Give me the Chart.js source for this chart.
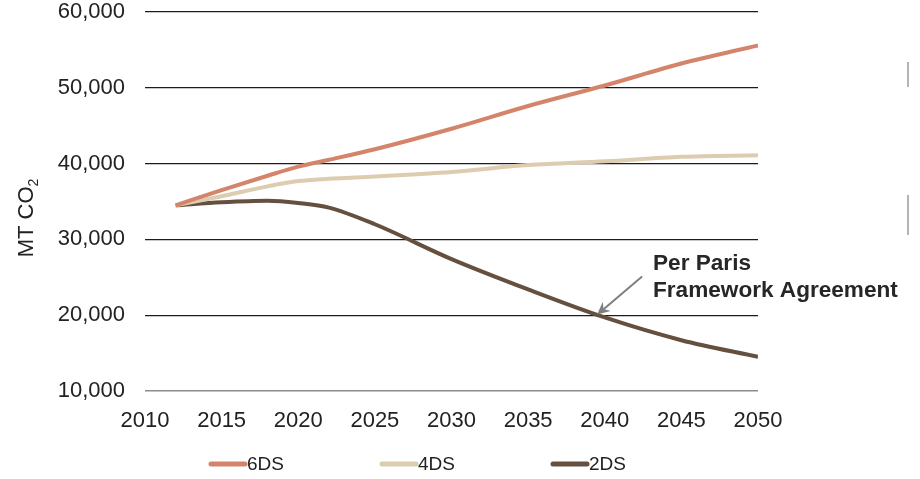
<!DOCTYPE html>
<html>
<head>
<meta charset="utf-8">
<title>CO2 emissions scenarios</title>
<script src="https://cdn.jsdelivr.net/npm/chart.js@4"></script>
<style>
    html, body { margin: 0; padding: 0; background: #ffffff; }
    #wrap { width: 920px; height: 479px; position: relative; }
</style>
</head>
<body>
<div id="wrap"><canvas id="emissionsChart" width="920" height="479"></canvas></div>
<script>
// Scenario data (MT CO2)
const years = [2012, 2015, 2018, 2020, 2022, 2025, 2030, 2035, 2040, 2045, 2050];
const sixDS = [34500, 36500, 38400, 39600, 40500, 41900, 44600, 47600, 50300, 53200, 55600];
const fourDS = [34500, 35700, 37000, 37700, 38000, 38300, 38900, 39800, 40300, 40900, 41100];
const twoDS = [34500, 34900, 35100, 34800, 34200, 32000, 27400, 23400, 19700, 16700, 14500];

const seriesNames = ['6DS', '4DS', '2DS'];
const seriesColors = ['#d4846a', '#dccdb0', '#65503f'];
const yTicks = [10000, 20000, 30000, 40000, 50000, 60000];
const xTicks = [2010, 2015, 2020, 2025, 2030, 2035, 2040, 2045, 2050];

const annotationLines = ['Per Paris', 'Framework Agreement'];

const FONT = "'Liberation Sans', Arial, sans-serif";
const TEXT_COLOR = '#222222';

function toPoints(values) {
    return values.map((v, i) => ({ x: years[i], y: v }));
}

// Y axis title with a subscript 2
const axisTitlePlugin = {
    id: 'axisTitle',
    afterDraw(chart) {
        const ctx = chart.ctx;
        ctx.save();
        ctx.translate(27, 218);
        ctx.rotate(-Math.PI / 2);
        ctx.fillStyle = TEXT_COLOR;
        ctx.textBaseline = 'middle';
        ctx.font = `22px ${FONT}`;
        const main = 'MT CO';
        const mainW = ctx.measureText(main).width;
        ctx.font = `14px ${FONT}`;
        const subW = ctx.measureText('2').width;
        const start = -(mainW + subW) / 2;
        ctx.font = `22px ${FONT}`;
        ctx.textAlign = 'left';
        ctx.fillText(main, start, 0);
        ctx.font = `14px ${FONT}`;
        ctx.fillText('2', start + mainW, 7);
        ctx.restore();
    }
};

// Callout pointing at the 2DS line
const calloutPlugin = {
    id: 'callout',
    afterDatasetsDraw(chart) {
        const ctx = chart.ctx;
        const xs = chart.scales.x;
        const ys = chart.scales.y;
        const tipX = xs.getPixelForValue(2039.5);
        const tipY = ys.getPixelForValue(19700) - 3;
        const fromX = tipX + 45;
        const fromY = tipY - 38;

        ctx.save();
        ctx.strokeStyle = '#7f7f7f';
        ctx.fillStyle = '#7f7f7f';
        ctx.lineWidth = 2;
        ctx.beginPath();
        ctx.moveTo(fromX, fromY);
        ctx.lineTo(tipX + 5, tipY - 4);
        ctx.stroke();

        const ang = Math.atan2(tipY - fromY, tipX - fromX);
        const len = 14;
        ctx.beginPath();
        ctx.moveTo(tipX, tipY);
        ctx.lineTo(tipX - len * Math.cos(ang - 0.45), tipY - len * Math.sin(ang - 0.45));
        ctx.lineTo(tipX - len * 0.6 * Math.cos(ang), tipY - len * 0.6 * Math.sin(ang));
        ctx.lineTo(tipX - len * Math.cos(ang + 0.45), tipY - len * Math.sin(ang + 0.45));
        ctx.closePath();
        ctx.fill();

        ctx.fillStyle = '#262626';
        ctx.font = `bold 22.6px ${FONT}`;
        ctx.textAlign = 'left';
        ctx.textBaseline = 'alphabetic';
        ctx.fillText(annotationLines[0], 653, 270);
        ctx.fillText(annotationLines[1], 653, 297);
        ctx.restore();
    }
};

// Legend drawn as short thick lines under the axis
const lineLegendPlugin = {
    id: 'lineLegend',
    afterDraw(chart) {
        const ctx = chart.ctx;
        const startX = 211;
        const step = 171;
        const y = 464;
        ctx.save();
        ctx.font = `19px ${FONT}`;
        ctx.textBaseline = 'middle';
        ctx.textAlign = 'left';
        chart.data.datasets.forEach((ds, i) => {
            const x = startX + i * step;
            ctx.strokeStyle = ds.borderColor;
            ctx.lineWidth = 5;
            ctx.lineCap = 'round';
            ctx.beginPath();
            ctx.moveTo(x, y);
            ctx.lineTo(x + 34, y);
            ctx.stroke();
            ctx.fillStyle = TEXT_COLOR;
            ctx.fillText(ds.label, x + 36, y + 1);
        });
        // edges of the neighbouring panel
        ctx.fillStyle = '#b4b4b4';
        ctx.fillRect(907, 62, 2, 25);
        ctx.fillRect(907, 195, 2, 40);
        ctx.restore();
    }
};

const ctx = document.getElementById('emissionsChart').getContext('2d');
const emissionsChart = new Chart(ctx, {
    type: 'line',
    data: {
        datasets: [sixDS, fourDS, twoDS].map((values, i) => ({
            label: seriesNames[i],
            data: toPoints(values),
            borderColor: seriesColors[i],
            backgroundColor: seriesColors[i],
            borderWidth: 4,
            pointRadius: 0,
            cubicInterpolationMode: 'monotone',
            fill: false
        }))
    },
    options: {
        responsive: false,
        animation: false,
        layout: { padding: { left: 0, right: 162, top: 12, bottom: 0 } },
        plugins: {
            legend: { display: false },
            tooltip: { enabled: false }
        },
        scales: {
            x: {
                type: 'linear',
                min: 2010,
                max: 2050,
                afterBuildTicks: scale => { scale.ticks = xTicks.map(v => ({ value: v })); },
                afterFit: scale => { scale.height = 88; },
                grid: { display: false },
                border: { display: false },
                ticks: {
                    color: TEXT_COLOR,
                    padding: 11,
                    font: { family: FONT, size: 22, lineHeight: 1 },
                    callback: v => String(v)
                }
            },
            y: {
                min: 10000,
                max: 60000,
                afterBuildTicks: scale => { scale.ticks = yTicks.map(v => ({ value: v })); },
                afterFit: scale => {
                    scale.width = 145;
                    scale.paddingTop = 0;
                    scale.paddingBottom = 0;
                },
                grid: {
                    drawTicks: false,
                    color: c => (c.tick && c.tick.value === 10000 ? '#8c8c8c' : '#1c1c1c'),
                    lineWidth: c => (c.tick && c.tick.value === 10000 ? 1.6 : 1.2)
                },
                border: { display: false },
                ticks: {
                    color: TEXT_COLOR,
                    padding: 20,
                    font: { family: FONT, size: 22, lineHeight: 1 },
                    callback: v => v.toLocaleString('en-US')
                }
            }
        }
    },
    plugins: [axisTitlePlugin, calloutPlugin, lineLegendPlugin]
});
</script>
</body>
</html>
